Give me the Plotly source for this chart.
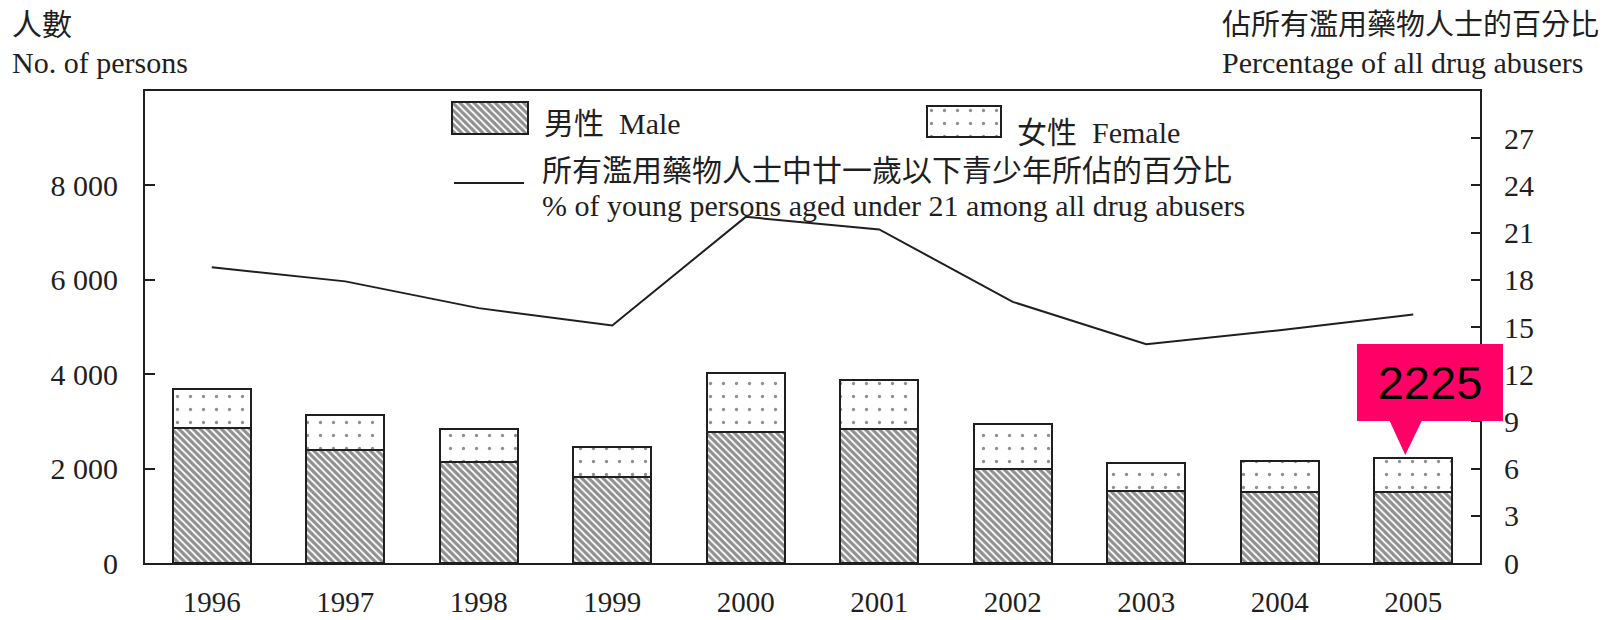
import plotly.graph_objects as go

# ---------------- data ----------------
years = ["1996", "1997", "1998", "1999", "2000", "2001", "2002", "2003", "2004", "2005"]
male = [2850, 2400, 2140, 1820, 2780, 2830, 2000, 1520, 1500, 1510]
female = [840, 740, 690, 630, 1235, 1040, 935, 600, 670, 715]
pct_young = [18.8, 17.9, 16.2, 15.1, 22.0, 21.2, 16.6, 13.9, 14.8, 15.8]

left_tickvals = [0, 2000, 4000, 6000, 8000]
left_ticktext = ["0", "2 000", "4 000", "6 000", "8 000"]
right_tickvals = [0, 3, 6, 9, 12, 15, 18, 21, 24, 27]
right_ticktext = ["0", "3", "6", "9", "12", "15", "18", "21", "24", "27"]

totals = [m + f for m, f in zip(male, female)]
callout_idx = len(years) - 1

# ---------------- geometry / style ----------------
W, H = 1610, 620
L, R, T, B = 145, 1480, 91, 563
INK = "#1f1f1f"
SERIF = "Liberation Serif, Noto Sans CJK TC, serif"
FS = 30


def px_x(px):
    return (px - L) / (R - L)


def px_y(py):
    return (B - py) / (B - T)


fig = go.Figure()

male_marker = dict(color="white", line=dict(color=INK, width=2),
                   pattern=dict(shape="\\", fgcolor=INK, bgcolor="white", size=5, solidity=0.65))
female_marker = dict(color="white", line=dict(color=INK, width=2),
                     pattern=dict(shape=".", fgcolor=INK, bgcolor="white", size=13, solidity=0.05))

fig.add_bar(x=years, y=male, name="男性 Male", marker=male_marker, width=0.585, showlegend=False)
fig.add_bar(x=years, y=female, name="女性 Female", marker=female_marker, width=0.585, showlegend=False)
fig.add_scatter(x=years, y=pct_young, yaxis="y2", mode="lines",
                line=dict(color=INK, width=2), showlegend=False,
                name="% of young persons aged under 21")


# legend swatches (drawn on small helper axes)
def swatch_axes(x0, x1, y0, y1, pad=2):
    w, h = x1 - x0, y1 - y0
    xd = [px_x(x0 - pad), px_x(x1 + pad)]
    yd = [px_y(y1 + pad), px_y(y0 - pad)]
    xr = [-0.5 - pad / w, 0.5 + pad / w]
    yr = [-pad / h, 1 + pad / h]
    return xd, yd, xr, yr


sw_m = swatch_axes(452, 528, 102, 134)
sw_f = swatch_axes(927, 1001, 106, 137)

fig.add_bar(x=[0], y=[1], xaxis="x3", yaxis="y3", marker=male_marker, width=1, showlegend=False, hoverinfo="skip")
fig.add_bar(x=[0], y=[1], xaxis="x4", yaxis="y4", marker=female_marker, width=1, showlegend=False, hoverinfo="skip")

hidden = dict(visible=False, fixedrange=True, automargin=False)

fig.update_layout(
    width=W, height=H,
    margin=dict(l=L, r=W - R, t=T, b=H - B, autoexpand=False),
    paper_bgcolor="white", plot_bgcolor="white",
    barmode="stack",
    font=dict(family=SERIF, size=FS, color=INK),
    showlegend=False,
    xaxis=dict(type="category", categoryorder="array", categoryarray=years,
               range=[-0.5, len(years) - 0.5], automargin=False,
               showline=True, linecolor=INK, linewidth=2, mirror=True,
               ticks="", showgrid=False, zeroline=False,
               tickfont=dict(family=SERIF, size=29, color=INK),
               ticklabelstandoff=12),
    yaxis=dict(range=[0, 10000], tickvals=left_tickvals, ticktext=left_ticktext,
               automargin=False,
               showline=True, linecolor=INK, linewidth=2,
               ticks="inside", ticklen=10, tickwidth=1.5, tickcolor=INK,
               showgrid=False, zeroline=False,
               tickfont=dict(family=SERIF, size=FS, color=INK),
               ticklabelstandoff=19),
    yaxis2=dict(range=[0, 30], tickvals=right_tickvals, ticktext=right_ticktext,
                overlaying="y", side="right", anchor="x", automargin=False,
                showline=True, linecolor=INK, linewidth=2,
                ticks="inside", ticklen=9, tickwidth=1.5, tickcolor=INK,
                showgrid=False, zeroline=False,
                tickfont=dict(family=SERIF, size=FS, color=INK),
                ticklabelstandoff=16),
    xaxis3=dict(domain=sw_m[0], range=sw_m[2], anchor="y3", **hidden),
    yaxis3=dict(domain=sw_m[1], range=sw_m[3], anchor="x3", **hidden),
    xaxis4=dict(domain=sw_f[0], range=sw_f[2], anchor="y4", **hidden),
    yaxis4=dict(domain=sw_f[1], range=sw_f[3], anchor="x4", **hidden),
)


def note(text, x, y, size=FS, xanchor="left"):
    fig.add_annotation(text=text, x=px_x(x), y=px_y(y), xref="paper", yref="paper",
                       xanchor=xanchor, yanchor="middle", showarrow=False,
                       font=dict(family=SERIF, size=size, color=INK))


note("人數", 10, 25)
note("No. of persons", 10, 63)
note("佔所有濫用藥物人士的百分比", 1220, 25, size=29)
note("Percentage of all drug abusers", 1220, 62)
note("男性  Male", 542, 123)
note("女性  Female", 1015, 132)
note("所有濫用藥物人士中廿一歲以下青少年所佔的百分比", 540, 170)
note("% of young persons aged under 21 among all drug abusers", 540, 205)

# legend line sample
fig.add_shape(type="line", xref="paper", yref="paper",
              x0=px_x(454), x1=px_x(524), y0=px_y(183), y1=px_y(183),
              line=dict(color=INK, width=2))

# callout for the last total
PINK = "#FF0066"
fig.add_annotation(text=str(totals[callout_idx]), x=callout_idx, y=totals[callout_idx],
                   xref="x", yref="y", xanchor="center", yanchor="bottom",
                   xshift=17, yshift=37, showarrow=False,
                   width=146, height=77, bgcolor=PINK, borderpad=0, borderwidth=0,
                   valign="middle",
                   font=dict(family="Liberation Sans, Arial, sans-serif", size=47, color="black"))
fig.add_shape(type="path", xref="x", yref="y", xsizemode="pixel", ysizemode="pixel",
              xanchor=callout_idx, yanchor=totals[callout_idx],
              path="M -24,38 L 9,38 L -8,3 Z", fillcolor=PINK, line=dict(width=0), layer="above")

fig.write_html("out.html", config={"displayModeBar": False},
               post_script="document.body.style.margin='0px';document.body.style.overflow='hidden';")
